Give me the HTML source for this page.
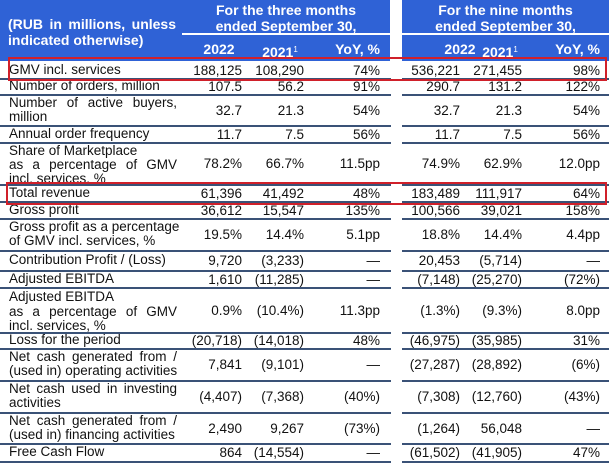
<!DOCTYPE html>
<html><head><meta charset="utf-8"><style>
body{margin:0;width:609px;height:463px;background:#fff;position:relative;overflow:hidden;font-family:"Liberation Sans",Arial,sans-serif;font-size:13.5px;color:#111}
.hb{position:absolute;background:#2f62d6}
.ht{position:absolute;color:#fff;font-weight:bold;font-size:14px;text-align:center;line-height:15.5px}
.r{position:absolute;left:0;width:609px}
.ln{position:absolute;height:2px;background:#3a5277}
.lb{position:absolute;left:9px;width:168px;top:0;height:100%;display:flex;align-items:center;line-height:14.5px}
.lb span{display:block;width:100%;text-align:justify;text-align-last:left;white-space:nowrap}
.ml{position:absolute;left:9px;width:168px;line-height:14px}
.ml div{text-align:justify;text-align-last:justify;white-space:nowrap}
.ml div.l{text-align-last:left}
.v{position:absolute;left:0;top:0;height:100%;display:flex;align-items:center;justify-content:flex-end;white-space:nowrap}
.a{width:242px}.b{width:304px}.c{width:380px}.d{width:460px}.e{width:522px}.f{width:600px}
.red{position:absolute;border:2px solid #d0202a;box-sizing:border-box}
sup{font-size:8px;vertical-align:5px;font-weight:normal}
</style></head><body>
<div class="hb" style="left:0;top:0;width:390px;height:61px"></div>
<div class="hb" style="left:402px;top:0;width:207px;height:61px"></div>
<div style="position:absolute;left:182px;top:33px;width:208px;height:2px;background:#fff"></div>
<div style="position:absolute;left:402px;top:33px;width:207px;height:2px;background:#fff"></div>
<div class="ht" style="left:8px;top:17px;width:168px;text-align:justify;text-align-last:left">(RUB in millions, unless indicated otherwise)</div>
<div class="ht" style="left:182px;top:3px;width:208px">For the three months<br>ended September 30,</div>
<div class="ht" style="left:402px;top:3px;width:207px">For the nine months<br>ended September 30,</div>
<div class="ht" style="left:195px;top:42px;width:48px">2022</div>
<div class="ht" style="left:255px;top:42px;width:50px">2021<sup>1</sup></div>
<div class="ht" style="left:320px;top:42px;width:60px;text-align:right">YoY, %</div>
<div class="ht" style="left:436px;top:42px;width:48px">2022</div>
<div class="ht" style="left:475px;top:42px;width:50px">2021<sup>1</sup></div>
<div class="ht" style="left:538px;top:42px;width:62px;text-align:right">YoY, %</div>

<div class="r" style="top:62px;height:16px"><div class="lb"><span>GMV incl. services</span></div><div class="v a">188,125</div><div class="v b">108,290</div><div class="v c">74%</div><div class="v d">536,221</div><div class="v e">271,455</div><div class="v f">98%</div></div>
<div class="r" style="top:79px;height:15px"><div class="lb"><span>Number of orders, million</span></div><div class="v a">107.5</div><div class="v b">56.2</div><div class="v c">91%</div><div class="v d">290.7</div><div class="v e">131.2</div><div class="v f">122%</div></div>
<div class="r" style="top:95px;height:30px"><div class="ml" style="top:1px"><div>Number of active buyers,</div><div class="l">million</div></div><div class="v a">32.7</div><div class="v b">21.3</div><div class="v c">54%</div><div class="v d">32.7</div><div class="v e">21.3</div><div class="v f">54%</div></div>
<div class="r" style="top:126px;height:16px"><div class="lb"><span>Annual order frequency</span></div><div class="v a">11.7</div><div class="v b">7.5</div><div class="v c">56%</div><div class="v d">11.7</div><div class="v e">7.5</div><div class="v f">56%</div></div>
<div class="r" style="top:143px;height:41px;overflow:hidden"><div class="ml" style="top:1px"><div class="l">Share of Marketplace</div><div>as a percentage of GMV</div><div class="l">incl. services, %</div></div><div class="v a">78.2%</div><div class="v b">66.7%</div><div class="v c">11.5pp</div><div class="v d">74.9%</div><div class="v e">62.9%</div><div class="v f">12.0pp</div></div>
<div class="r" style="top:185px;height:16px"><div class="lb"><span>Total revenue</span></div><div class="v a">61,396</div><div class="v b">41,492</div><div class="v c">48%</div><div class="v d">183,489</div><div class="v e">111,917</div><div class="v f">64%</div></div>
<div class="r" style="top:202px;height:16px"><div class="lb"><span>Gross profit</span></div><div class="v a">36,612</div><div class="v b">15,547</div><div class="v c">135%</div><div class="v d">100,566</div><div class="v e">39,021</div><div class="v f">158%</div></div>
<div class="r" style="top:219px;height:31px"><div class="ml" style="top:1px"><div>Gross profit as a percentage</div><div class="l">of GMV incl. services, %</div></div><div class="v a">19.5%</div><div class="v b">14.4%</div><div class="v c">5.1pp</div><div class="v d">18.8%</div><div class="v e">14.4%</div><div class="v f">4.4pp</div></div>
<div class="r" style="top:251px;height:19px"><div class="lb"><span>Contribution Profit / (Loss)</span></div><div class="v a">9,720</div><div class="v b">(3,233)</div><div class="v c">—</div><div class="v d">20,453</div><div class="v e">(5,714)</div><div class="v f">—</div></div>
<div class="r" style="top:271px;height:16px"><div class="lb"><span>Adjusted EBITDA</span></div><div class="v a">1,610</div><div class="v b">(11,285)</div><div class="v c">—</div><div class="v d">(7,148)</div><div class="v e">(25,270)</div><div class="v f">(72%)</div></div>
<div class="r" style="top:288px;height:44px"><div class="ml" style="top:2px;line-height:14.5px"><div class="l">Adjusted EBITDA</div><div>as a percentage of GMV</div><div class="l">incl. services, %</div></div><div class="v a">0.9%</div><div class="v b">(10.4%)</div><div class="v c">11.3pp</div><div class="v d">(1.3%)</div><div class="v e">(9.3%)</div><div class="v f">8.0pp</div></div>
<div class="r" style="top:333px;height:15px"><div class="lb"><span>Loss for the period</span></div><div class="v a">(20,718)</div><div class="v b">(14,018)</div><div class="v c">48%</div><div class="v d">(46,975)</div><div class="v e">(35,985)</div><div class="v f">31%</div></div>
<div class="r" style="top:349px;height:31px"><div class="ml" style="top:1px"><div>Net cash generated from /</div><div class="l">(used in) operating activities</div></div><div class="v a">7,841</div><div class="v b">(9,101)</div><div class="v c">—</div><div class="v d">(27,287)</div><div class="v e">(28,892)</div><div class="v f">(6%)</div></div>
<div class="r" style="top:381px;height:31px"><div class="ml" style="top:1px"><div>Net cash used in investing</div><div class="l">activities</div></div><div class="v a">(4,407)</div><div class="v b">(7,368)</div><div class="v c">(40%)</div><div class="v d">(7,308)</div><div class="v e">(12,760)</div><div class="v f">(43%)</div></div>
<div class="r" style="top:413px;height:30px"><div class="ml" style="top:1px"><div>Net cash generated from /</div><div class="l">(used in) financing activities</div></div><div class="v a">2,490</div><div class="v b">9,267</div><div class="v c">(73%)</div><div class="v d">(1,264)</div><div class="v e">56,048</div><div class="v f">—</div></div>
<div class="r" style="top:444px;height:17px"><div class="lb"><span>Free Cash Flow</span></div><div class="v a">864</div><div class="v b">(14,554)</div><div class="v c">—</div><div class="v d">(61,502)</div><div class="v e">(41,905)</div><div class="v f">47%</div></div>

<div class="ln" style="left:0;width:391px;top:78px"></div><div class="ln" style="left:402px;width:207px;top:78px"></div>
<div class="ln" style="left:0;width:391px;top:94px"></div><div class="ln" style="left:402px;width:207px;top:94px"></div>
<div class="ln" style="left:0;width:391px;top:125px"></div><div class="ln" style="left:402px;width:207px;top:125px"></div>
<div class="ln" style="left:0;width:391px;top:142px"></div><div class="ln" style="left:402px;width:207px;top:142px"></div>
<div class="ln" style="left:0;width:391px;top:184px"></div><div class="ln" style="left:402px;width:207px;top:184px"></div>
<div class="ln" style="left:0;width:391px;top:201px"></div><div class="ln" style="left:402px;width:207px;top:201px"></div>
<div class="ln" style="left:0;width:391px;top:218px"></div><div class="ln" style="left:402px;width:207px;top:218px"></div>
<div class="ln" style="left:0;width:391px;top:250px"></div><div class="ln" style="left:402px;width:207px;top:250px"></div>
<div class="ln" style="left:0;width:391px;top:270px"></div><div class="ln" style="left:402px;width:207px;top:270px"></div>
<div class="ln" style="left:0;width:391px;top:287px"></div><div class="ln" style="left:402px;width:207px;top:287px"></div>
<div class="ln" style="left:0;width:391px;top:332px"></div><div class="ln" style="left:402px;width:207px;top:332px"></div>
<div class="ln" style="left:0;width:391px;top:348px"></div><div class="ln" style="left:402px;width:207px;top:348px"></div>
<div class="ln" style="left:0;width:391px;top:380px"></div><div class="ln" style="left:402px;width:207px;top:380px"></div>
<div class="ln" style="left:0;width:391px;top:412px"></div><div class="ln" style="left:402px;width:207px;top:412px"></div>
<div class="ln" style="left:0;width:391px;top:443px"></div><div class="ln" style="left:402px;width:207px;top:443px"></div>
<div class="ln" style="left:0;width:391px;top:461px"></div><div class="ln" style="left:402px;width:207px;top:461px"></div>

<div class="red" style="left:8px;top:57px;width:599px;height:24px"></div>
<div class="red" style="left:6px;top:182px;width:601px;height:23px"></div>
</body></html>
